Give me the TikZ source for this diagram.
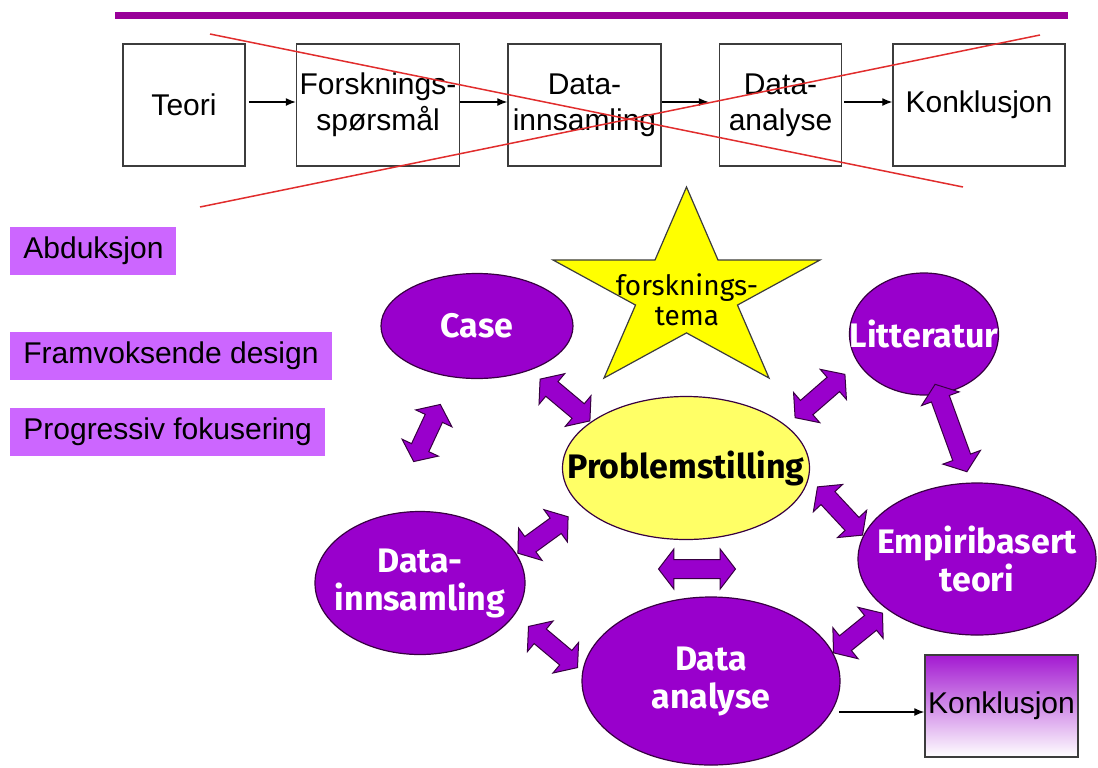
\documentclass[tikz,border=0pt]{standalone}
\usepackage{fontspec}
\setmainfont{Liberation Sans}
\newfontfamily\handfont{Fira Sans}
\usepackage{tikz}
\usetikzlibrary{shapes.geometric, shapes.arrows, arrows.meta, positioning}
\definecolor{barpurple}{RGB}{153, 0, 153}
\definecolor{tagpurple}{RGB}{204, 102, 255}
\definecolor{ovalpurple}{RGB}{153, 0, 204}
\definecolor{ovaledge}{RGB}{55, 0, 65}
\definecolor{starfill}{RGB}{255, 255, 0}
\definecolor{probfill}{RGB}{255, 255, 102}
\definecolor{crossred}{RGB}{225, 45, 45}
\definecolor{boxedge}{RGB}{60, 60, 60}
\tikzset{
  font=\fontsize{15}{18}\selectfont,
  stageblock/.style={
    rectangle, draw=boxedge, line width=0.75pt,
    minimum height=61pt, inner sep=1pt, align=center
  },
  tagblock/.style={
    rectangle, fill=tagpurple, minimum height=24pt,
    inner xsep=6.5pt, inner ysep=0pt, anchor=west
  },
  ovalblock/.style={
    ellipse, draw=ovaledge, line width=0.6pt, fill=ovalpurple, inner sep=0pt
  },
  problemblock/.style={ovalblock, fill=probfill},
  ovaltext/.style={
    text=white, align=center, inner sep=0pt,
    font=\handfont\bfseries\fontsize{17}{19}\selectfont
  },
  problemtext/.style={ovaltext, text=black},
  starline/.style={draw=boxedge, line width=0.6pt, fill=starfill},
  twowayarrow/.style={
    double arrow, double arrow tip angle=105, double arrow head extend=5.25pt,
    inner sep=4.5pt, draw=ovaledge, line width=0.5pt, fill=ovalpurple
  },
  flowline/.style={draw=black, line width=0.6pt, -{Latex[length=5pt, width=4pt]}},
  crossline/.style={draw=crossred, line width=0.75pt}
}
\begin{document}
\begin{tikzpicture}[x=0.5pt, y=-0.5pt]
  \useasboundingbox (0,0) rectangle (1098,767);

  % Title bar
  \draw[barpurple, line width=3.5pt] (115,15.5) -- (1068,15.5);

  % Linear model
  \node[stageblock, minimum width=61pt] (teori) at (184,105) {Teori};
  \node[stageblock, right=25pt of teori, minimum width=81.5pt] (sporsmal) {Forsknings-\\spørsmål};
  \node[stageblock, right=23.5pt of sporsmal, minimum width=76.5pt] (innsamling) {Data-\\innsamling};
  \node[stageblock, right=28.5pt of innsamling, minimum width=61pt] (analyse) {Data-\\analyse};
  \node[stageblock, right=25pt of analyse, minimum width=86pt] (konklusjon) {Konklusjon};

  \draw[flowline, shorten <=1.5pt] ([yshift=1.5pt]teori.east) -- ([yshift=1.5pt]sporsmal.west);
  \draw[flowline] ([yshift=1.5pt]sporsmal.east) -- ([yshift=1.5pt]innsamling.west);
  \draw[flowline, shorten >=5pt] ([yshift=1.5pt]innsamling.east) -- ([yshift=1.5pt]analyse.west);
  \draw[flowline, shorten <=1pt] ([yshift=1.5pt]analyse.east) -- ([yshift=1.5pt]konklusjon.west);

  % Crossed out
  \draw[crossline] (210,34) -- (963,187);
  \draw[crossline] (200,207) -- (1040,35);

  % Keywords
  \node[tagblock] (abduksjon) at (10,250.5) {Abduksjon};
  \node[tagblock] (framvoksende) at (10,355.5) {Framvoksende design};
  \node[tagblock] (progressiv) at (10,431.5) {Progressiv fokusering};

  % Research theme
  \draw[starline, shift={(686.5,292.6)}] (-90:140.4 and 105.6)
    \foreach \a in {-90,-18,54,126,198} {
      -- (\a+36:53.6 and 40.3) -- (\a+72:140.4 and 105.6)
    } -- cycle;
  \node[align=center, inner sep=0pt, font=\handfont\fontsize{14}{15}\selectfont] (tema) at (687,300) {forsknings-\\tema};

  % Cyclic model
  \node[ovalblock, minimum width=96pt, minimum height=52.5pt,
        label={[ovaltext]center:Case}] (case) at (477,326) {};
  \node[ovalblock, minimum width=74.5pt, minimum height=61pt,
        label={[ovaltext]center:Litteratur}] (litteratur) at (924,334) {};
  \node[problemblock, minimum width=123.5pt, minimum height=71.5pt,
        label={[problemtext]center:Problemstilling}] (problem) at (686,468) {};
  \node[ovalblock, minimum width=105pt, minimum height=71.5pt,
        label={[ovaltext]center:Data-\\innsamling}] (datainn) at (420,583) {};
  \node[ovalblock, minimum width=129pt, minimum height=84pt,
        label={[ovaltext]center:Data\\analyse}] (dataana) at (711,681) {};
  \node[ovalblock, minimum width=119pt, minimum height=76pt,
        label={[ovaltext]center:Empiribasert\\teori}] (empiri) at (977,559) {};

  % Two-way links
  \node[twowayarrow, minimum height=32.5pt, rotate=-40] (caseprob) at (565,400) {};
  \node[twowayarrow, minimum height=31.5pt, rotate=65] (caseinn) at (427,433) {};
  \node[twowayarrow, minimum height=33pt, rotate=41] (littprob) at (820,396) {};
  \node[twowayarrow, minimum height=46.5pt, rotate=-70] (litteemp) at (951,428) {};
  \node[twowayarrow, minimum height=33pt, rotate=-47] (probemp) at (840,511) {};
  \node[twowayarrow, minimum height=31pt, rotate=36] (innprob) at (543,535) {};
  \node[twowayarrow, minimum height=38.5pt, rotate=0] (probana) at (697,569) {};
  \node[twowayarrow, minimum height=32pt, rotate=-40] (innana) at (553,647) {};
  \node[twowayarrow, minimum height=31.5pt, rotate=39] (anaemp) at (858,633) {};

  % Conclusion
  \node[stageblock, minimum width=76.5pt, minimum height=51pt,
        top color=ovalpurple!90, bottom color=white] (sluttkonkl) at (1001.5,706) {Konklusjon};
  \coordinate (utgang) at (839,712);
  \draw[flowline] (utgang) -- (utgang -| sluttkonkl.west);

\end{tikzpicture}
\end{document}
